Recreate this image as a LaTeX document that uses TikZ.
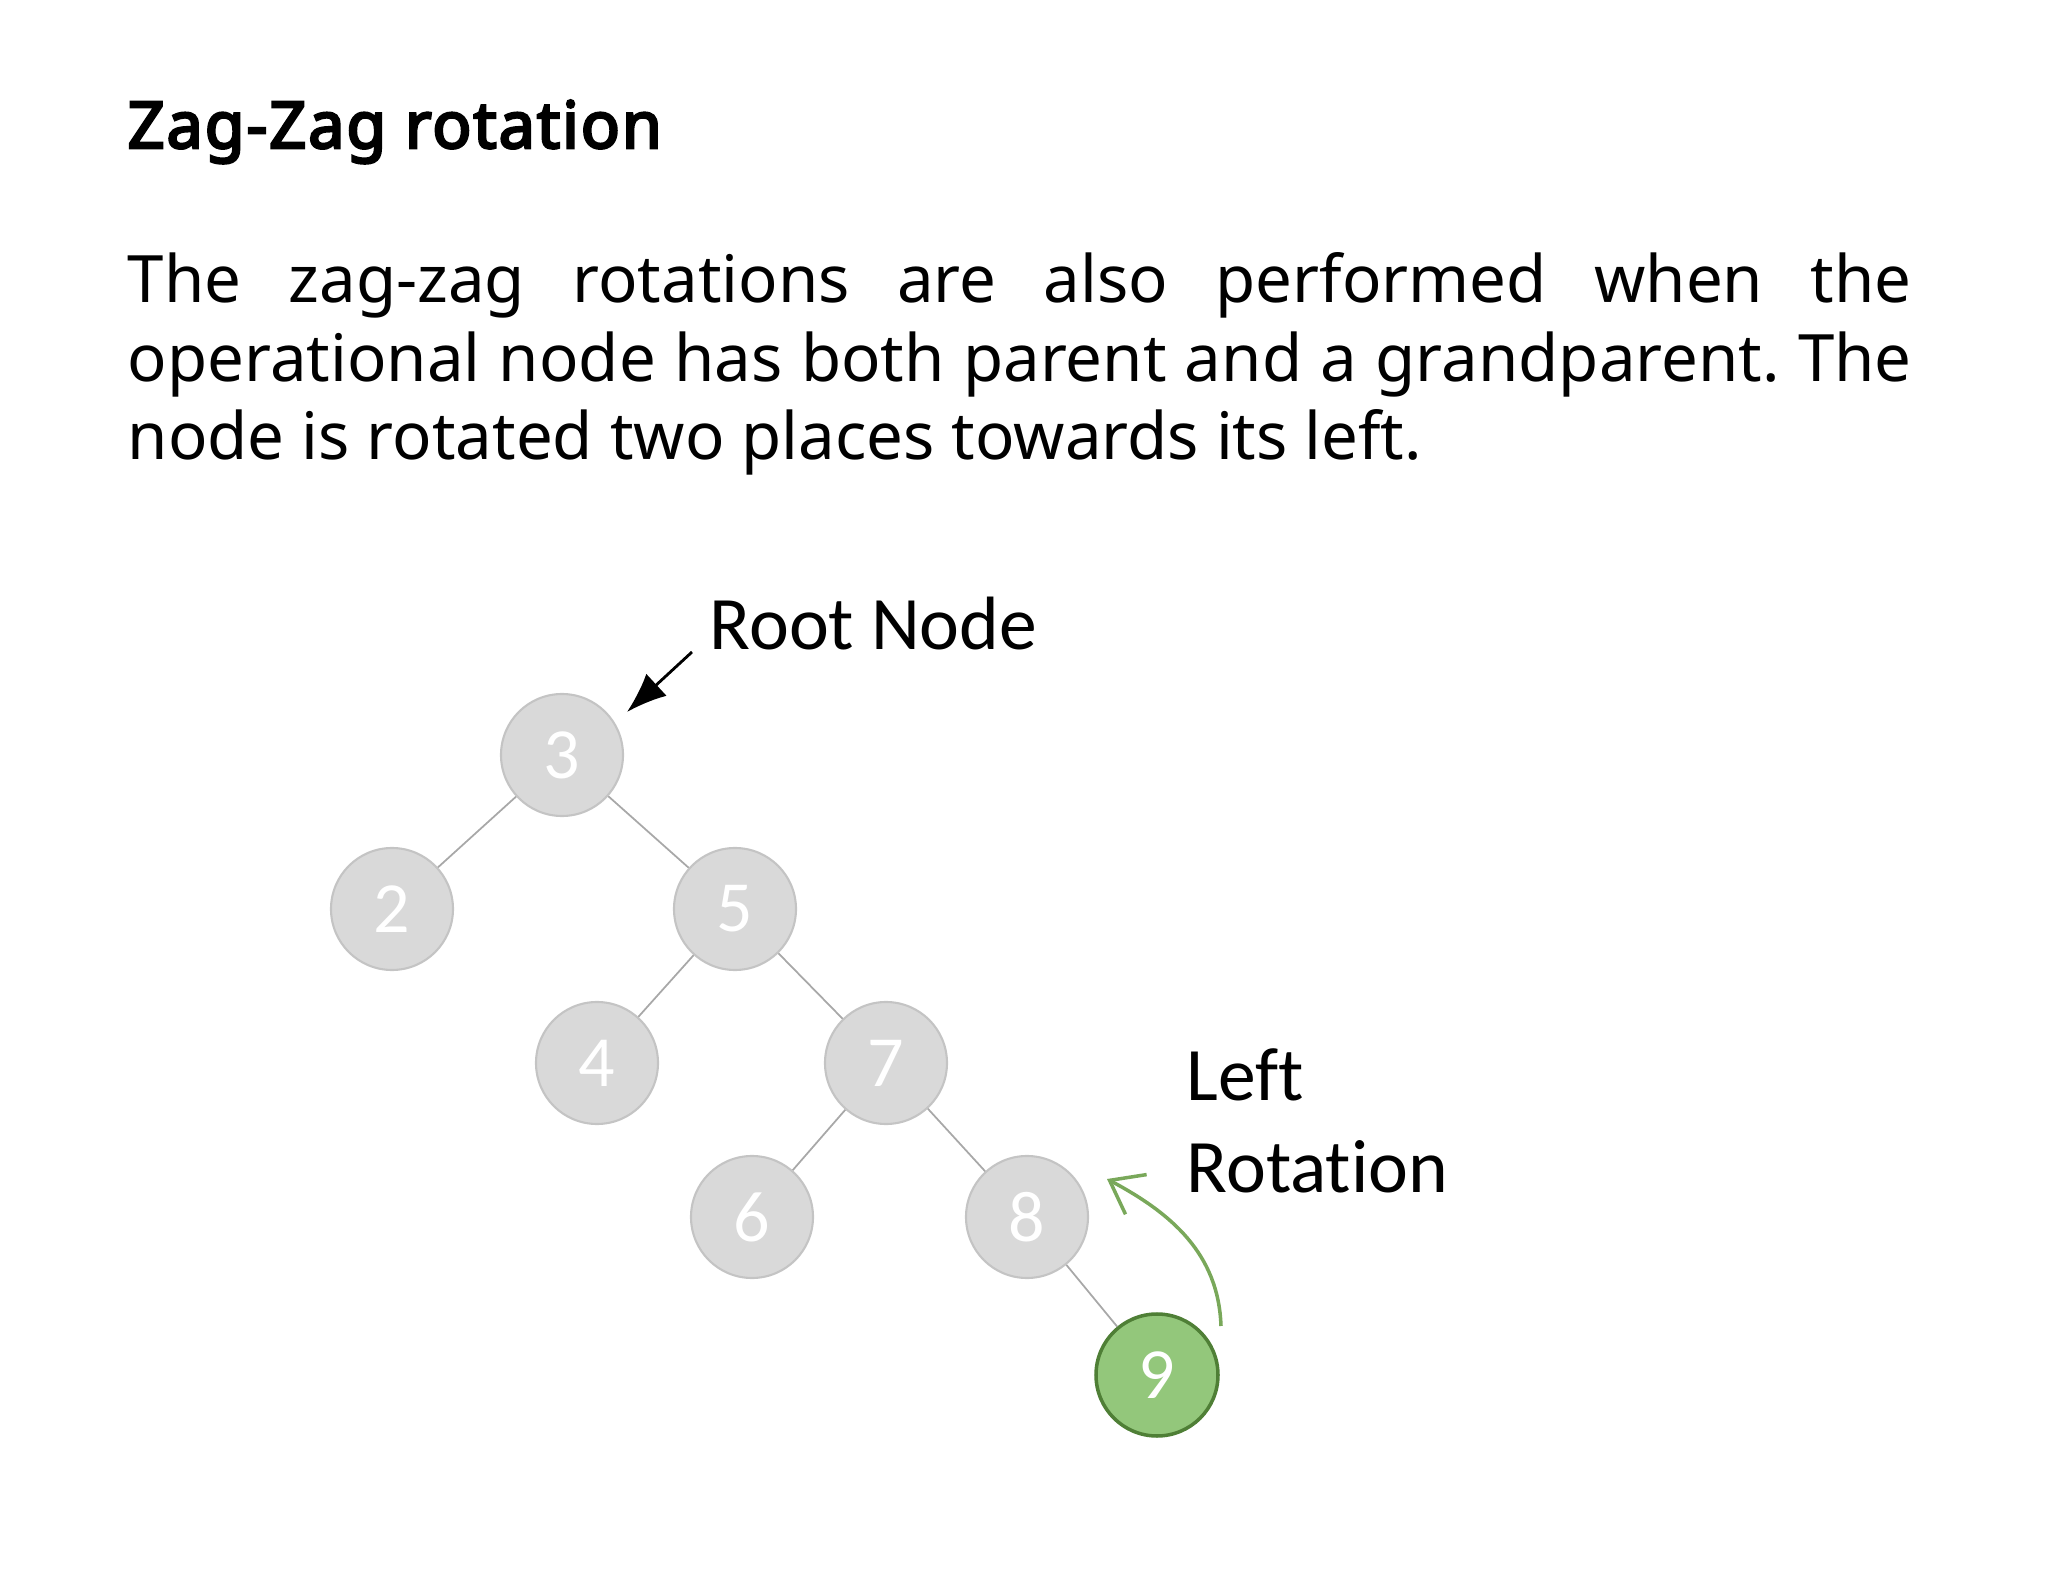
\documentclass[tikz,border=0pt]{standalone}
\usepackage{fontspec}
\setmainfont{Noto Sans}
\newfontfamily\titlefont{Noto Sans}[FakeBold=4,LetterSpace=3]
\newfontfamily\labelfont{Carlito}[Ligatures=NoCommon]
\usetikzlibrary{arrows.meta}

\definecolor{nodegray}{HTML}{D9D9D9}
\definecolor{nodeborder}{HTML}{C4C4C4}
\definecolor{edgegray}{HTML}{A8A8A8}
\definecolor{activefill}{HTML}{93C77B}
\definecolor{activeborder}{HTML}{4F7F36}
\definecolor{rotgreen}{HTML}{79A85A}

\tikzset{
	treenode/.style={circle, minimum size=1.22cm, inner sep=0pt, fill=nodegray, draw=nodeborder, line width=0.6pt, text=white, font=\labelfont\fontsize{20.5}{20}\selectfont},
	activenode/.style={treenode, fill=activefill, draw=activeborder, line width=1pt},
	treeedge/.style={draw=edgegray, line width=0.5pt},
	labeltext/.style={font=\labelfont\fontsize{21.5}{25.9}\selectfont, inner sep=0pt}
}

\begin{document}
\begin{tikzpicture}
	\useasboundingbox (0,0) rectangle (20.48,-15.82);
	%draw text
	\node[anchor=base west, inner sep=0pt, font=\titlefont\fontsize{18.4}{22}\selectfont] (title) at (1.27,-1.48) {Zag-Zag rotation};
	\node[anchor=base west, inner sep=0pt, text width=17.84cm, align=justify, font=\fontsize{18.6}{22.3}\selectfont] (body) at (1.27,-3.03)
		{\hyphenpenalty=10000\frenchspacing The zag-zag rotations are also performed when the\linebreak operational node has both parent and a grandparent. The\linebreak node is rotated two places towards its left.};
	%draw nodes
	\node[treenode] (n3) at (5.62,-7.55) {3};
	\node[treenode] (n2) at (3.92,-9.09) {2};
	\node[treenode] (n5) at (7.35,-9.09) {5};
	\node[treenode] (n4) at (5.97,-10.63) {4};
	\node[treenode] (n7) at (8.86,-10.63) {7};
	\node[treenode] (n6) at (7.52,-12.17) {6};
	\node[treenode] (n8) at (10.27,-12.17) {8};
	\node[activenode] (n9) at (11.57,-13.75) {9};
	%draw edges
	\draw[treeedge] (n3) -- (n2);
	\draw[treeedge] (n3) -- (n5);
	\draw[treeedge] (n5) -- (n4);
	\draw[treeedge] (n5) -- (n7);
	\draw[treeedge] (n7) -- (n6);
	\draw[treeedge] (n7) -- (n8);
	\draw[treeedge] (n8) -- (n9);
	%draw labels
	\node[labeltext, anchor=base west] (rootlabel) at (7.09,-6.49) {Root Node};
	\node[labeltext, anchor=base west, align=left] (rotlabel) at (11.86,-11.92) {Left\\Rotation};
	%draw arrows
	\coordinate (roottail) at (6.92,-6.52);
	\coordinate (roothead) at (6.27,-7.12);
	\draw[-{Latex[length=4mm,width=3mm]}, line width=0.8pt] (roottail) -- (roothead);
	\coordinate (rottail) at (12.21,-13.26);
	\coordinate (rothead) at (11.07,-11.79);
	\draw[rotgreen, line width=1pt, -{Straight Barb[length=3mm,width=4.5mm]}] (rottail) to[out=92, in=-28] (rothead);
\end{tikzpicture}
\end{document}
